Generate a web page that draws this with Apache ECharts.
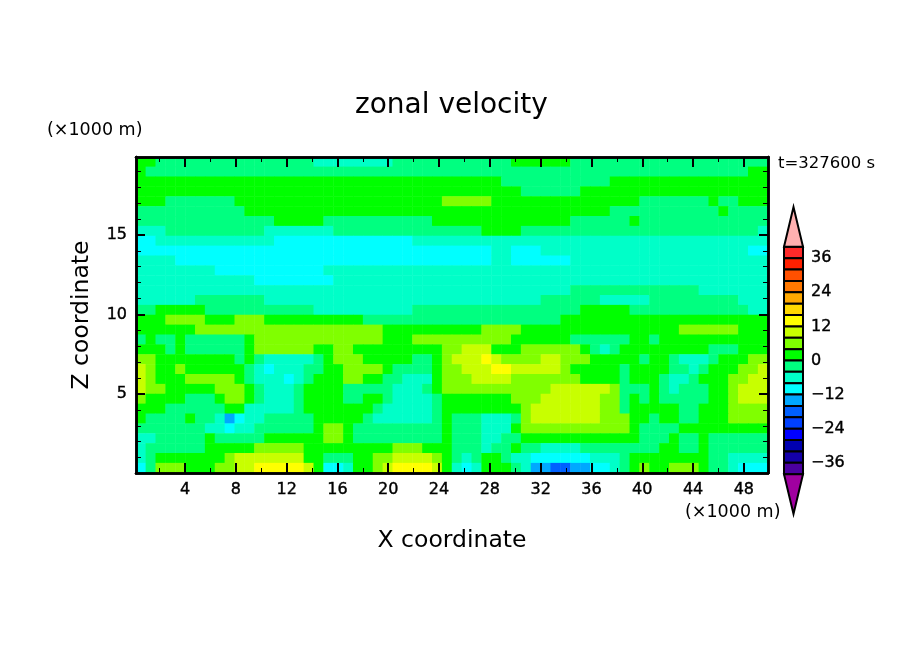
<!DOCTYPE html>
<html lang="en">
<head>
    <meta charset="UTF-8">
    <title>zonal velocity</title>
    <script src="https://cdn.jsdelivr.net/npm/echarts@6/dist/echarts.min.js"></script>
    <style>
        html, body { margin: 0; padding: 0; background: #fff; }
        #chart { width: 904px; height: 654px; }
    </style>
</head>
<body>
    <div id="chart"></div>
    <script>
        // zonal velocity, top row (z about 19.7 km) first, m/s
        var row00 = [2,2,-2,-2,-2,-2,-2,-2,-2,-2,-2,-2,-2,-2,-2,-2,-2,-2,-6,-6,-6,-6,-6,-6,-6,-6,-2,-2,-2,-2,-2,-2,-2,-2,-2,-2,-2,-2,2,2,2,2,2,2,-2,-2,-2,-2,-2,-2,-2,-2,-2,-2,-2,-2,-2,-2,-2,-2,-2,-2,-2,-2];
        var row01 = [2,-2,-2,-2,-2,-2,-2,-2,-2,-2,-2,-2,-2,-2,-2,-2,-2,-2,-2,-2,-2,-2,-2,-2,-2,-2,-2,-2,-2,-2,-2,-2,-2,-2,-2,-2,-2,-2,-2,-2,-2,-2,-2,-2,-2,-2,-2,-2,-2,-2,-2,-2,-2,-2,-2,-2,-2,-2,-2,-2,-2,-2,2,2];
        var row02 = [2,2,2,2,2,2,2,2,2,2,2,2,2,2,2,2,2,2,2,2,2,2,2,2,2,2,2,2,2,2,2,2,2,2,2,2,2,-2,-2,-2,-2,-2,-2,-2,-2,-2,-2,-2,2,2,2,2,2,2,2,2,2,2,2,2,2,2,2,2];
        var row03 = [2,2,2,2,2,2,2,2,2,2,2,2,2,2,2,2,2,2,2,2,2,2,2,2,2,2,2,2,2,2,2,2,2,2,2,2,2,2,2,-2,-2,-2,-2,-2,-2,2,2,2,2,2,2,2,2,2,2,2,2,2,2,2,2,2,2,2];
        var row04 = [2,2,2,-2,-2,-2,-2,-2,-2,-2,2,2,2,2,2,2,2,2,2,2,2,2,2,2,2,2,2,2,2,2,2,6,6,6,6,6,2,2,2,2,2,2,2,2,2,2,2,2,2,2,2,-2,-2,-2,-2,-2,-2,-2,2,-2,-2,2,2,2];
        var row05 = [-2,-2,-2,-2,-2,-2,-2,-2,-2,-2,-2,2,2,2,2,2,2,2,2,2,2,2,2,2,2,2,2,2,2,2,2,2,2,2,2,2,2,2,2,2,2,2,2,2,2,2,2,2,-2,-2,-2,-2,-2,-2,-2,-2,-2,-2,-2,2,-2,-2,-2,-2];
        var row06 = [-2,-2,-2,-2,-2,-2,-2,-2,-2,-2,-2,-2,-2,-2,2,2,2,2,2,-2,-2,-2,-2,-2,-2,-2,-2,-2,-2,-2,2,2,2,2,2,2,2,2,2,2,2,2,2,2,-2,-2,-2,-2,-2,-2,2,-2,-2,-2,-2,-2,-2,-2,-2,-2,-2,-2,-2,-2];
        var row07 = [-6,-6,-6,-2,-2,-2,-2,-2,-2,-2,-2,-2,-2,-6,-6,-6,-6,-6,-6,-6,-2,-2,-2,-2,-2,-2,-2,-2,-2,-2,-2,-2,-2,-2,-2,2,2,2,2,-2,-2,-2,-2,-2,-2,-2,-2,-2,-2,-2,-2,-2,-2,-2,-2,-2,-2,-2,-2,-2,-2,-2,-2,-6];
        var row08 = [-10,-10,-6,-6,-6,-6,-6,-6,-6,-6,-6,-6,-6,-6,-10,-10,-10,-10,-10,-10,-10,-10,-10,-10,-10,-10,-10,-10,-6,-6,-6,-6,-6,-6,-6,-6,-6,-6,-6,-6,-6,-6,-6,-6,-6,-6,-6,-6,-6,-6,-6,-6,-6,-6,-6,-6,-6,-6,-6,-6,-6,-6,-6,-6];
        var row09 = [-10,-10,-10,-10,-10,-10,-10,-10,-10,-10,-10,-10,-10,-10,-10,-10,-10,-10,-10,-10,-10,-10,-10,-10,-10,-10,-10,-10,-10,-10,-10,-10,-10,-10,-10,-10,-6,-6,-10,-10,-10,-6,-6,-6,-6,-6,-6,-6,-6,-6,-6,-6,-6,-6,-6,-6,-6,-6,-6,-6,-6,-6,-10,-10];
        var row10 = [-6,-6,-6,-6,-10,-10,-10,-10,-10,-10,-10,-10,-10,-10,-10,-10,-10,-10,-10,-10,-10,-10,-10,-10,-10,-10,-10,-10,-10,-10,-10,-10,-10,-10,-10,-10,-6,-6,-10,-10,-10,-10,-10,-10,-6,-6,-6,-6,-6,-6,-6,-6,-6,-6,-6,-6,-6,-6,-6,-6,-6,-6,-6,-6];
        var row11 = [-6,-6,-6,-6,-6,-6,-6,-6,-10,-10,-10,-10,-10,-10,-10,-10,-10,-10,-10,-6,-6,-6,-6,-6,-6,-6,-6,-6,-6,-6,-6,-6,-6,-6,-6,-6,-6,-6,-6,-6,-6,-6,-6,-6,-6,-6,-6,-6,-6,-6,-6,-6,-6,-6,-6,-6,-6,-6,-6,-6,-6,-6,-6,-6];
        var row12 = [-6,-6,-6,-6,-6,-6,-6,-6,-6,-6,-6,-6,-10,-10,-10,-10,-10,-10,-10,-10,-6,-6,-6,-6,-6,-6,-6,-6,-6,-6,-6,-6,-6,-6,-6,-6,-6,-6,-6,-6,-6,-6,-6,-6,-6,-6,-6,-6,-6,-6,-6,-6,-6,-6,-6,-6,-6,-6,-6,-6,-6,-6,-6,-6];
        var row13 = [-6,-6,-6,-6,-6,-6,-6,-6,-6,-6,-6,-6,-6,-6,-6,-6,-6,-6,-6,-6,-6,-6,-6,-6,-6,-6,-6,-6,-6,-6,-6,-6,-6,-6,-6,-6,-6,-6,-6,-6,-6,-6,-6,-6,-2,-2,-2,-2,-2,-2,-2,-2,-2,-2,-2,-2,-2,-6,-6,-6,-6,-6,-6,-6];
        var row14 = [-6,-6,-6,-6,-6,-6,-2,-2,-2,-2,-2,-2,-2,-6,-6,-6,-6,-6,-6,-6,-6,-6,-6,-6,-6,-6,-6,-6,-6,-6,-6,-6,-6,-6,-6,-6,-6,-6,-6,-6,-6,-2,-2,-2,-2,-2,-2,-6,-6,-6,-6,-6,-2,-2,-2,-2,-2,-2,-2,-2,-2,-6,-6,-6];
        var row15 = [-2,-2,2,2,2,2,2,-2,-2,-2,-2,-2,-2,-2,-2,-2,-2,-2,-6,-6,-6,-6,-6,-6,-6,-6,-6,-6,-2,-2,-2,-2,-2,-2,-2,-2,-2,-2,-2,-2,-2,-2,-2,-2,-2,2,2,2,2,2,-2,-2,-2,-2,-2,-2,-2,-2,-2,-2,-2,-2,-6,-6];
        var row16 = [2,2,2,6,6,6,6,2,2,2,6,6,6,2,2,2,2,2,2,2,2,2,2,-2,-2,-2,-2,-2,-2,-2,-2,-2,-2,-2,-2,-2,-2,-2,-2,-2,-2,-2,-2,2,2,2,2,2,2,2,2,2,2,2,2,2,2,2,2,2,2,2,2,2];
        var row17 = [2,2,2,2,2,2,6,6,6,6,6,6,6,6,6,6,6,6,6,6,6,6,6,6,6,2,2,2,2,2,2,2,2,2,2,6,6,6,6,2,2,2,2,2,2,2,2,2,2,2,2,2,2,2,2,6,6,6,6,6,6,2,2,2];
        var row18 = [-2,2,-2,-2,2,-2,-2,-2,-2,-2,-2,2,6,6,6,6,6,6,6,6,6,6,6,6,6,2,2,2,6,6,6,6,6,6,6,6,6,6,2,2,2,2,2,2,-2,-2,-2,-2,-2,-2,2,2,-2,2,2,2,2,2,2,2,2,2,2,2];
        var row19 = [2,2,2,-2,2,-2,-2,-2,-2,-2,-2,2,6,6,6,6,6,6,2,2,6,6,2,2,2,2,2,2,2,2,2,6,6,10,10,10,2,2,2,6,6,6,6,6,6,2,-2,-6,-2,2,2,2,2,2,2,2,2,2,-2,-2,-2,2,2,2];
        var row20 = [6,6,2,2,2,2,2,2,2,2,-2,2,-2,-6,-6,-6,-6,-6,-2,2,6,6,6,2,2,2,2,2,-2,-2,2,6,10,10,10,14,10,6,6,6,6,10,10,6,6,6,2,2,2,2,2,-2,2,2,-2,-6,-6,-6,-2,2,2,2,6,6];
        var row21 = [10,6,2,2,6,2,2,2,2,2,2,-2,-6,-10,-6,-6,-6,-2,-2,2,2,6,6,6,6,2,-2,-2,-2,-2,2,6,6,10,10,10,14,14,10,10,10,10,10,6,2,2,2,2,2,-2,2,2,2,2,-2,-2,-6,-2,2,2,2,6,6,10];
        var row22 = [10,6,2,2,2,6,6,6,6,6,2,-2,-6,-6,-6,-10,-6,-2,2,2,2,6,6,2,2,-2,-2,-6,-6,-6,2,6,6,6,10,10,10,10,6,6,6,6,6,6,6,2,2,2,2,-2,2,2,2,-2,-6,-6,-2,2,2,2,6,6,10,10];
        var row23 = [10,6,6,2,2,2,2,2,6,6,6,2,-2,-6,-6,-6,-2,2,2,2,2,-2,-2,-2,-2,-2,-6,-6,-6,-2,2,6,6,6,6,6,6,6,6,6,6,6,10,10,10,10,10,10,6,-2,-2,-2,2,-2,-6,-2,-2,-2,2,2,6,10,10,10];
        var row24 = [6,2,2,2,2,-2,-2,-2,2,6,6,2,-2,-6,-6,-6,-2,2,2,2,2,-2,-2,2,2,-2,-6,-6,-6,-6,-2,2,2,2,2,2,2,2,6,6,6,10,10,10,10,10,10,6,6,-2,2,-2,2,-2,-2,-2,-2,-2,2,2,6,10,10,10];
        var row25 = [2,2,2,-2,-2,-2,-2,-2,-2,2,2,-6,-6,-6,-6,-6,-2,2,2,2,2,2,2,2,-2,-6,-6,-6,-6,-6,-2,2,2,2,2,2,2,2,2,6,10,10,10,10,10,10,10,6,6,-2,2,2,2,2,2,-2,-2,2,2,2,6,6,6,6];
        var row26 = [2,-2,-2,-2,-2,2,-2,-2,-6,-14,-10,-6,-6,-2,-2,-2,-2,-2,2,2,2,2,2,-2,-6,-6,-6,-6,-6,-6,-2,2,-2,-2,-2,-6,-6,-6,-2,6,10,10,10,10,10,10,10,6,6,6,2,2,-2,2,2,-2,-2,2,2,2,6,6,6,6];
        var row27 = [-2,-2,-2,-2,-2,-2,-2,-6,-6,-10,-6,-6,-2,-2,-2,-2,-2,-2,2,6,6,2,-2,-2,-2,-2,-2,-2,-2,-2,-2,2,-2,-2,-2,-6,-6,-6,2,6,6,6,6,6,6,6,6,6,6,6,2,-2,-2,-2,-2,2,2,2,2,2,2,2,2,2];
        var row28 = [-6,-6,-2,-2,-2,-2,-2,2,-2,-2,-2,-2,-2,2,2,2,2,2,2,6,6,2,-2,-2,-2,-2,-2,-2,-2,-2,-2,2,-2,-2,-2,-6,-6,-2,-2,2,2,2,2,2,2,2,2,2,2,2,2,-2,-2,-2,2,-2,-2,2,-2,-2,-2,-2,-2,-2];
        var row29 = [-6,-2,-2,-2,-2,-2,-2,2,2,2,2,2,6,6,6,6,6,2,2,2,2,2,2,2,2,2,6,6,6,2,2,2,-2,-2,-2,-6,-2,-2,2,-2,-2,-6,-6,-6,-6,-2,-2,-2,-2,-2,-2,-2,-2,2,2,-2,-2,2,-2,-2,-2,-2,-2,-2];
        var row30 = [-6,-2,2,2,2,2,2,2,2,6,10,10,10,10,10,10,10,2,2,-2,-2,-2,2,2,6,6,10,10,10,10,6,2,-2,-6,-2,2,2,-2,-6,-6,-10,-10,-10,-10,-10,-10,-6,-6,-6,-2,2,2,2,2,2,2,2,2,-2,-2,-6,-6,-6,-6];
        var row31 = [-10,-2,6,6,6,2,2,2,6,6,10,10,14,14,14,14,14,10,2,-10,-10,-6,2,2,6,10,14,14,14,14,10,2,-6,-10,-6,2,2,2,-2,-6,-14,-14,-18,-18,-14,-14,-10,-10,-6,-2,2,6,2,2,6,6,6,2,-2,-2,-6,-10,-10,-10];
        var zRows = [row00,row01,row02,row03,row04,row05,row06,row07,row08,row09,row10,row11,row12,row13,row14,row15,
                     row16,row17,row18,row19,row20,row21,row22,row23,row24,row25,row26,row27,row28,row29,row30,row31];

        // colour bar, every box is 4 m/s wide
        var bandLows = [36,32,28,24,20,16,12,8,4,0,-4,-8,-12,-16,-20,-24,-28,-32,-36,-40];
        var bandColors = ['#ff2a2a','#ff2000','#ff5000','#ff7800','#ffa800','#ffd800','#ffff00','#c8ff00','#80ff00','#00ff00',
                          '#00ff80','#00ffc8','#00ffff','#00a8ff','#0060ff','#0040ff','#0000ff','#0000b0','#1400a8','#4a00a0'];
        var overColor = '#ffb0b0';
        var underColor = '#a000a0';

        var xMajor = [4,8,12,16,20,24,28,32,36,40,44,48];
        var xMinor = [2,6,10,14,18,22,26,30,34,38,42,46];
        var zMajor = [5,10,15];
        var zMinor = [1,2,3,4,6,7,8,9,11,12,13,14,16,17,18,19];
        var barTicks = [36,24,12,0,-12,-24,-36];

        var font = '"DejaVu Sans"';
        var heatData = [];
        zRows.forEach(function (row, j) {
            row.forEach(function (v, i) { heatData.push([i, j, v]); });
        });
        var pieces = bandLows.map(function (lo, i) {
            return { gte: lo, lt: lo + 4, color: bandColors[i] };
        });

        function label(text, left, top, size) {
            return {
                text: text, left: left, top: top, padding: 0,
                textStyle: { fontFamily: font, fontWeight: 'normal', fontSize: size, color: '#000' }
            };
        }

        // one value axis per side and tick family, all over the same grid
        function valueAxis(dim, position, ticks, len, width, labels, extra) {
            var a = {
                type: 'value', gridIndex: 0, position: position, z: 5,
                min: dim === 'x' ? 0.14 : 0.03, max: dim === 'x' ? 49.9 : 19.9,
                splitLine: { show: false },
                axisLine: { onZero: false, lineStyle: { color: '#000', width: 2.5 } },
                axisTick: { inside: true, length: len, customValues: ticks, lineStyle: { color: '#000', width: width } },
                axisLabel: labels ? {
                    customValues: ticks, color: '#000', fontFamily: font, fontSize: 16, margin: 9,
                    textBorderColor: '#000', textBorderWidth: 0.4
                } : { show: false }
            };
            return Object.assign(a, extra || {});
        }

        var option = {
            animation: false,
            backgroundColor: '#fff',
            title: [
                label('zonal velocity', 355, 92, 28),
                label('(×1000 m)', 47, 121, 17.5),
                label('(×1000 m)', 685, 503, 17.5),
                label('t=327600 s', 778, 155, 16.5)
            ],
            grid: [
                { left: 136, top: 157, width: 632, height: 316 },
                { left: 784, top: 207, width: 19, height: 307 }
            ],
            visualMap: { show: false, type: 'piecewise', seriesIndex: 0, dimension: 2, pieces: pieces },
            xAxis: [
                { type: 'category', gridIndex: 0, show: false, data: row00.map(function (v, i) { return i; }) },
                valueAxis('x', 'bottom', xMajor, 10, 2, true, {
                    name: 'X coordinate', nameLocation: 'middle', nameGap: 56,
                    nameTextStyle: { fontFamily: font, fontSize: 23.5, color: '#000' }
                }),
                valueAxis('x', 'bottom', xMinor, 5, 1, false),
                valueAxis('x', 'top', xMajor, 10, 2, false),
                valueAxis('x', 'top', xMinor, 5, 1, false),
                { type: 'value', gridIndex: 1, show: false, min: 0, max: 1 }
            ],
            yAxis: [
                { type: 'category', gridIndex: 0, show: false, inverse: true, data: zRows.map(function (r, j) { return j; }) },
                valueAxis('y', 'left', zMajor, 9, 2, true, {
                    name: 'Z coordinate', nameLocation: 'middle', nameGap: 42, nameRotate: 90,
                    nameTextStyle: { fontFamily: font, fontSize: 23.5, color: '#000' }
                }),
                valueAxis('y', 'left', zMinor, 5, 1, false),
                valueAxis('y', 'right', zMajor, 9, 2, false),
                valueAxis('y', 'right', zMinor, 5, 1, false),
                {
                    type: 'value', gridIndex: 1, position: 'right', min: -54, max: 54,
                    splitLine: { show: false }, axisLine: { show: false }, axisTick: { show: false },
                    axisLabel: {
                        customValues: barTicks, color: '#000', fontFamily: font, fontSize: 16, margin: 8,
                        textBorderColor: '#000', textBorderWidth: 0.4,
                        formatter: function (v) { return String(v).replace('-', '\u2212'); }
                    }
                }
            ],
            series: [
                {
                    type: 'heatmap', xAxisIndex: 0, yAxisIndex: 0, data: heatData,
                    itemStyle: { borderWidth: 0 }, emphasis: { disabled: true }, progressive: 0
                },
                {
                    // colour boxes
                    type: 'custom', xAxisIndex: 5, yAxisIndex: 5, silent: true,
                    data: bandLows.map(function (lo, i) { return [lo, lo + 4, i]; }),
                    encode: { y: [0, 1] },
                    renderItem: function (params, api) {
                        var a = api.coord([0, api.value(1)]);
                        var b = api.coord([1, api.value(0)]);
                        return {
                            type: 'rect',
                            shape: { x: a[0], y: a[1], width: b[0] - a[0], height: b[1] - a[1] },
                            style: { fill: bandColors[api.value(2)], stroke: '#000', lineWidth: 2 }
                        };
                    }
                },
                {
                    // arrow ends of the bar
                    type: 'custom', xAxisIndex: 5, yAxisIndex: 5, silent: true,
                    data: [[40, 54, 1], [-40, -54, 0]],
                    encode: { y: [0, 1] },
                    renderItem: function (params, api) {
                        var l = api.coord([0, api.value(0)]);
                        var r = api.coord([1, api.value(0)]);
                        var t = api.coord([0.5, api.value(1)]);
                        return {
                            type: 'polygon',
                            shape: { points: [l, r, t] },
                            style: { fill: api.value(2) ? overColor : underColor, stroke: '#000', lineWidth: 2 }
                        };
                    }
                }
            ]
        };

        var myChart = echarts.init(document.getElementById('chart'));
        myChart.setOption(option);
    </script>
</body>
</html>
